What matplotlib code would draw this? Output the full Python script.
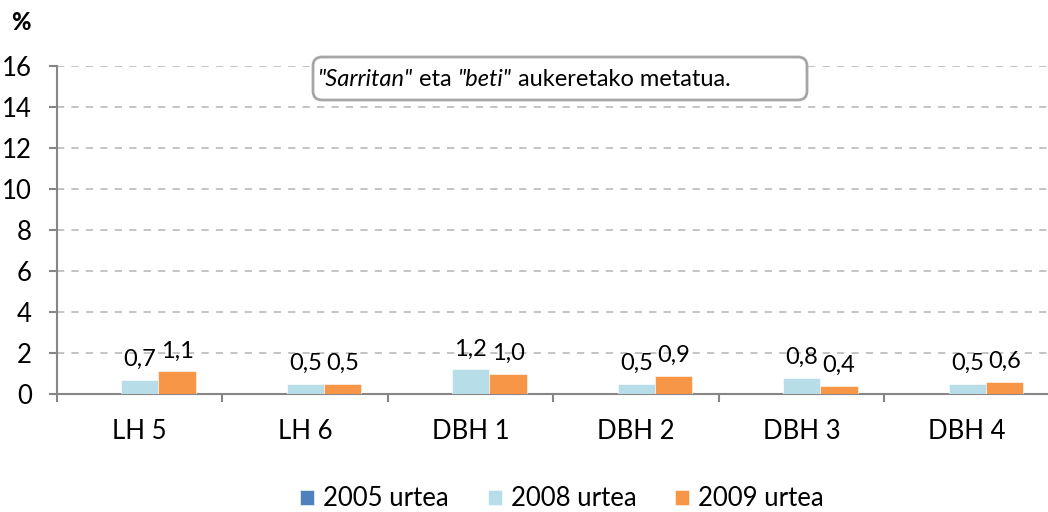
import matplotlib.pyplot as plt
import matplotlib
import numpy as np
from matplotlib.patches import FancyBboxPatch
from matplotlib.text import Annotation
from matplotlib.transforms import IdentityTransform

matplotlib.rcParams["font.family"] = ['Lato', 'DejaVu Sans']

categories = ['LH 5', 'LH 6', 'DBH 1', 'DBH 2', 'DBH 3', 'DBH 4']
series_names = ['2005 urtea', '2008 urtea', '2009 urtea']
vals_2005 = [np.nan, np.nan, np.nan, np.nan, np.nan, np.nan]
vals_2008 = [0.7, 0.5, 1.2, 0.5, 0.8, 0.5]
vals_2009 = [1.1, 0.5, 1.0, 0.9, 0.4, 0.6]
colors = ['#4F81BD', '#B7DEE8', '#F79646']
note_parts = [('"Sarritan"', 'italic'), (' eta ', 'normal'),
              ('"beti"', 'italic'), (' aukeretako metatua.', 'normal')]

FS = 18.5

fig = plt.figure(figsize=(10.48, 5.12), dpi=100)
ax = fig.add_axes([57 / 1048, 1 - 394 / 512, 993 / 1048, 328 / 512])

x = np.arange(len(categories))
w = 0.225
all_vals = [vals_2005, vals_2008, vals_2009]
for i, (vals, name, c) in enumerate(zip(all_vals, series_names, colors)):
    ax.bar(x + (i - 1) * w, vals, w, color=c, label=name,
           edgecolor='white', linewidth=0.4, zorder=3)
    if i > 0:
        for xi, v in zip(x + (i - 1) * w, vals):
            ax.annotate(('%.1f' % v).replace('.', ','), (xi, v),
                        xytext=(0, 7), textcoords='offset points',
                        ha='center', va='bottom', fontsize=17, zorder=5)

ax.set_xlim(-0.5, len(categories) - 0.5)
ax.set_ylim(0, 16)
ax.set_yticks(range(0, 17, 2))
ax.set_xticks(x)
ax.set_xticklabels(categories)
ax.set_xticks(np.arange(-0.5, len(categories), 1), minor=True)
ax.tick_params(axis='x', which='major', length=0, pad=18, labelsize=FS)
ax.tick_params(axis='x', which='minor', length=6, color='#868686', width=1.5)
ax.tick_params(axis='y', length=6, color='#868686', width=1.5, pad=12,
               labelsize=FS)
ax.yaxis.grid(True, linestyle=(0, (4, 4)), color='#BFBFBF', linewidth=1.3,
              zorder=0)
for s in ['top', 'right']:
    ax.spines[s].set_visible(False)
for s in ['left', 'bottom']:
    ax.spines[s].set_color('#868686')
    ax.spines[s].set_linewidth(1.5)

fig.text(11 / 1048, 1 - 23 / 512, '%', fontsize=17, fontweight='black',
         va='center', ha='left')

# note box
box = FancyBboxPatch((313, 512 - 100), 494, 43,
                     boxstyle='round,pad=0,rounding_size=9',
                     transform=IdentityTransform(), facecolor='white',
                     edgecolor='#A6A6A6', linewidth=2, zorder=10)
fig.patches.append(box)
prev = fig.text(318 / 1048, 1 - 79 / 512, note_parts[0][0],
                style=note_parts[0][1], fontsize=17, va='center',
                ha='left', zorder=11)
for txt, st in note_parts[1:]:
    prev = fig.add_artist(Annotation(txt, xy=(1, 0.5), xycoords=prev,
                                     va='center', ha='left', fontsize=17,
                                     style=st, zorder=11))

ax.legend(loc='center', bbox_to_anchor=(562 / 1048, 1 - 499 / 512),
          bbox_transform=fig.transFigure, ncol=3, frameon=False,
          fontsize=FS, handlelength=0.55, handleheight=0.55,
          handletextpad=0.35, columnspacing=1.5)

fig.savefig('out.png', dpi=100)
